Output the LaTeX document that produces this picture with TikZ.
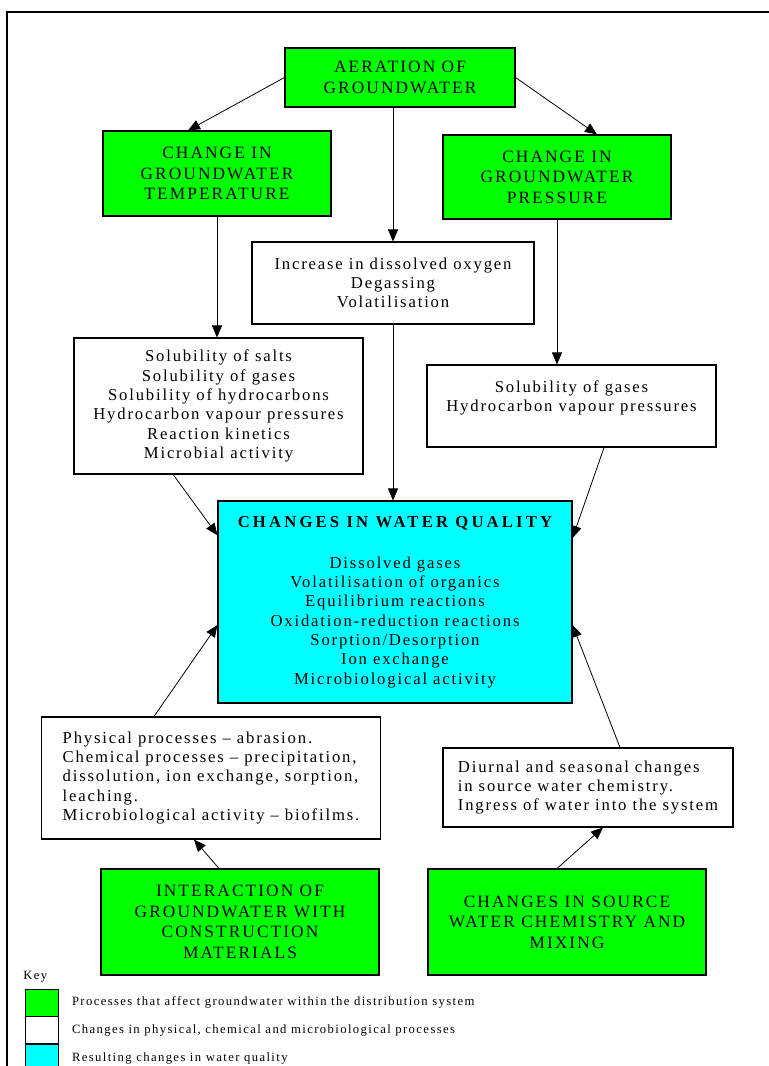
\documentclass[tikz,border=0pt]{standalone}
\usepackage{fontspec}
\setmainfont{Liberation Serif}[LetterSpace=11]
\usepackage{xcolor}
\usetikzlibrary{positioning,arrows.meta}
\definecolor{procgreen}{RGB}{0,255,0}
\definecolor{qualcyan}{RGB}{0,255,255}

\begin{document}
\begin{tikzpicture}[
  x=0.75pt,y=-0.75pt,
  every node/.style={inner sep=2pt},
  proc/.style={draw,line width=0.8pt,fill=procgreen,align=center,
    font=\fontsize{13}{15.4}\selectfont\addfontfeature{LetterSpace=12}},
  chg/.style={draw,line width=0.8pt,fill=white,align=center,font=\fontsize{12.5}{14.5}\selectfont},
  qual/.style={draw,line width=0.8pt,fill=qualcyan,align=center,font=\fontsize{12.5}{14.5}\selectfont},
  arr/.style={-{Triangle[length=9pt,width=7.5pt]},line width=0.6pt},
  keybox/.style={draw,line width=0.6pt,minimum width=24.75pt,minimum height=20.25pt},
  keytext/.style={font=\fontsize{9.5}{11}\selectfont,inner sep=0pt},
]
\useasboundingbox (0,0) rectangle (768,1066);
\draw[line width=1.5pt] (7,1070) -- (7,12) -- (770,12);

% top row
\node[proc,minimum width=172.5pt,minimum height=44.25pt] (aer) at (400,77.5) {AERATION OF\\GROUNDWATER};
\node[proc,minimum width=171pt,minimum height=63.75pt] (temp) at (217,173.5) {CHANGE IN\\GROUNDWATER\\TEMPERATURE};
\node[proc,minimum width=171pt,minimum height=63pt] (pres) at (557,177) {CHANGE IN\\GROUNDWATER\\PRESSURE};

% physical, chemical and microbiological changes
\node[chg,minimum width=211.5pt,minimum height=61.5pt] (oxy) at (393,283) {Increase in dissolved oxygen\\Degassing\\Volatilisation};
\node[chg,minimum width=216.75pt,minimum height=102pt] (salts) at (218.5,406) {Solubility of salts\\Solubility of gases\\Solubility of hydrocarbons\\Hydrocarbon vapour pressures\\Reaction kinetics\\Microbial activity};
\node[chg,minimum width=216.75pt,minimum height=61.5pt] (gases) at (571.5,406) {Solubility of gases\\Hydrocarbon vapour pressures\\~};

% water quality
\node[qual,minimum width=265.5pt,minimum height=151.5pt] (qual) at (395,602) {{\bfseries\addfontfeature{LetterSpace=19}CHANGES IN WATER QUALITY}\\[16pt]
  Dissolved gases\\Volatilisation of organics\\Equilibrium reactions\\Oxidation-reduction reactions\\Sorption/Desorption\\Ion exchange\\Microbiological activity};

\node[chg,align=left,minimum width=254pt,minimum height=91.5pt] (phys) at (211,778) {Physical processes – abrasion.\\Chemical processes – precipitation,\\dissolution, ion exchange, sorption,\\leaching.\\Microbiological activity – biofilms.};
\node[chg,align=left,minimum width=217.5pt,minimum height=59.25pt] (diur) at (588,787.5) {Diurnal and seasonal changes\\in source water chemistry.\\Ingress of water into the system};

% bottom row
\node[proc,minimum width=208.5pt,minimum height=79.5pt] (inter) at (240,922) {INTERACTION OF\\GROUNDWATER WITH\\CONSTRUCTION\\MATERIALS};
\node[proc,minimum width=208.5pt,minimum height=79.5pt] (src) at (567,922) {CHANGES IN SOURCE\\WATER CHEMISTRY AND\\MIXING};

% connectors
\draw[arr] (aer.west) -- ([xshift=-21.75pt]temp.north);
\draw[arr] (aer.east) -- ([xshift=30pt]pres.north);
\draw[arr] (aer.south -| oxy.north) -- (oxy.north);
\draw[arr] (temp.south) -- (temp.south |- salts.north);
\draw[arr] (pres.south) -- (pres.south |- gases.north);
\draw[arr] (oxy.south) -- (oxy.south |- qual.north);
\draw[arr] ([xshift=-34pt]salts.south) -- ([yshift=50pt]qual.west);
\draw[arr] ([xshift=24.4pt]gases.south) -- ([yshift=48pt]qual.east);
\draw[arr] ([xshift=-42.75pt]phys.north) -- ([yshift=-17.25pt]qual.west);
\draw[arr] ([xshift=24pt]diur.north) -- ([yshift=-17.25pt]qual.east);
\draw[arr] ([xshift=-15.75pt]inter.north) -- ([xshift=-12.75pt]phys.south);
\draw[arr] ([xshift=-7.5pt]src.north) -- ([xshift=11.25pt]diur.south);

% key
\node[keybox,fill=procgreen] (k1) at (41.5,1002.5) {};
\node[keybox,fill=white,below=0pt of k1] (k2) {};
\node[keybox,fill=qualcyan,below=0pt of k2] (k3) {};
\node[keytext,anchor=south west] (key) at (23,982) {Key};
\node[keytext,right=10pt of k1] (t1) {Processes that affect groundwater within the distribution system};
\node[keytext,right=10pt of k2] (t2) {Changes in physical, chemical and microbiological processes};
\node[keytext,right=10pt of k3] (t3) {Resulting changes in water quality};
\end{tikzpicture}
\end{document}
